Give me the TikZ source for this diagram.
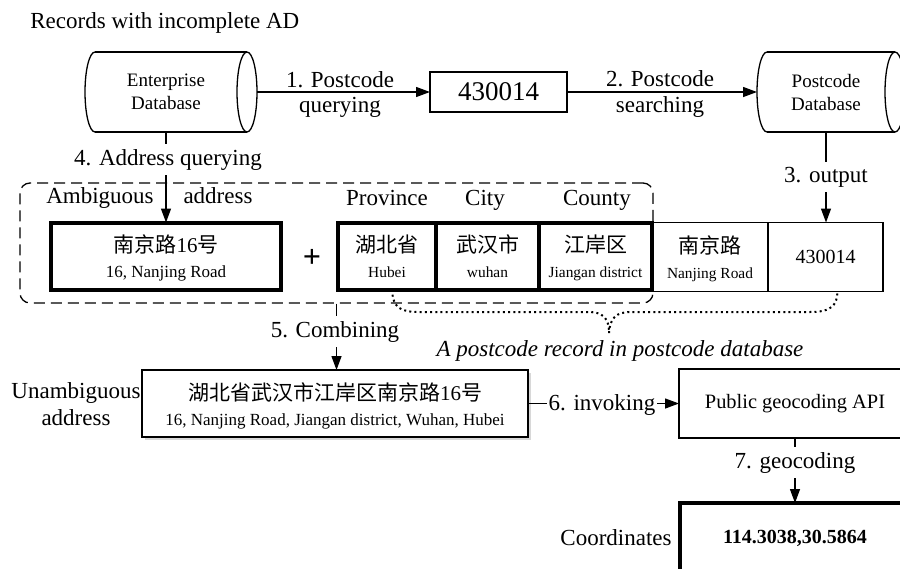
\documentclass[tikz,border=0pt]{standalone}
\usepackage{fontspec}
\setmainfont{Liberation Serif}
\newfontfamily\cjk{Noto Sans CJK SC}
\usetikzlibrary{arrows.meta,shadows}
\newcommand\fsz[1]{\fontsize{#1}{#1}\selectfont}
\newcommand\cylinderoutline[1]{%
  \draw[line] ([xshift=5pt]#1.north west) -- (#1.north east);
  \draw[line] ([xshift=5pt]#1.south west) -- (#1.south east);
  \draw[line] (#1.east) ellipse [x radius=5pt, y radius=20pt];
  \draw[line] ([xshift=5pt]#1.north west) arc [start angle=90, end angle=270, x radius=5pt, y radius=20pt];
}
\newcommand\celltext[4]{%
  \node[font=\fsz{10.5}, inner sep=0pt] (#1-c) at ([yshift=5.75pt]#1.center) {#2};
  \node[font=\fsz{#4}, inner sep=0pt, anchor=base] (#1-e) at ([yshift=-10.75pt]#1.center) {#3};
}
\begin{document}
\begin{tikzpicture}[x=0.5pt,y=-0.5pt,
  line/.style={line width=0.65pt},
  arr/.style={line width=0.65pt,-{Triangle[length=7pt,width=5pt]}},
  lbl/.style={font=\fsz{11.5}, inner sep=0pt},
  lblw/.style={lbl, fill=white, inner xsep=1pt, inner ysep=2.5pt},
  cyl/.style={inner sep=0pt, outer sep=0pt, minimum height=40pt, align=center, font=\fontsize{9.5}{11.5}\selectfont},
  boxthin/.style={draw, line width=0.65pt, inner sep=0pt, outer sep=0pt, align=center},
  boxthick/.style={draw, line width=2pt, inner sep=0pt, outer sep=0pt, align=center},
]
\useasboundingbox (0,0) rectangle (900,568);
\fill[white] (0,0) rectangle (900,568);
\clip (0,0) rectangle (900,568);

\node[lbl, anchor=base west] (title) at (30,28) {Records with incomplete AD};

\node[cyl, minimum width=81pt] (edb) at (166,92) {Enterprise\\Database};
\cylinderoutline{edb}
\node[cyl, minimum width=69pt] (pdb) at (826,92) {Postcode\\Database};
\cylinderoutline{pdb}

\node[boxthin, minimum width=68.5pt, minimum height=20pt, font=\fsz{13.5}] (pc) at (498.5,92) {430014};

\draw[arr] ([xshift=5pt]edb.east) -- (pc.west);
\node[lbl, anchor=base] (l1a) at (340,87) {1. Postcode};
\node[lbl, anchor=base] (l1b) at (340,112) {querying};
\draw[arr] (pc.east) -- (pdb.west);
\node[lbl, anchor=base] (l2a) at (660,86) {2. Postcode};
\node[lbl, anchor=base] (l2b) at (660,112) {searching};

% dashed frame
\node[draw, line width=0.65pt, dash pattern=on 5.5pt off 3pt, rounded corners=5pt, minimum width=316.5pt, minimum height=60pt, inner sep=0pt] (frame) at (336.5,243) {};

\node[lbl, anchor=base] (hamb) at (100,203) {Ambiguous};
\node[lbl, anchor=base] (hadr) at (218,203) {address};
\node[lbl, anchor=base] (hprov) at (387,205) {Province};
\node[lbl, anchor=base] (hcity) at (485,205) {City};
\node[lbl, anchor=base] (hcounty) at (597,205) {County};

% record cells
\node[boxthin, minimum width=58pt, minimum height=34.5pt] (road) at (710,257) {};
\node[boxthin, minimum width=57.5pt, minimum height=34.5pt, font=\fsz{10}] (pcell) at (825.5,257) {430014};
\node[boxthick, minimum width=115pt, minimum height=33.5pt] (amb) at (166,256) {};
\node[boxthick, minimum width=49pt, minimum height=33.5pt] (prov) at (387,256) {};
\node[boxthick, minimum width=51.5pt, minimum height=33.5pt] (city) at (487.5,256) {};
\node[boxthick, minimum width=56.5pt, minimum height=33.5pt] (county) at (595.5,256) {};

\celltext{amb}{{\cjk 南京路}16{\cjk 号}}{16, Nanjing Road}{8.5}
\celltext{prov}{{\cjk 湖北省}}{Hubei}{7.7}
\celltext{city}{{\cjk 武汉市}}{wuhan}{7.7}
\celltext{county}{{\cjk 江岸区}}{Jiangan district}{7.7}
\celltext{road}{{\cjk 南京路}}{Nanjing Road}{7.7}

\node[font=\bfseries\fsz{16}, inner sep=0pt] (plus) at (312,258) {+};

\draw[arr] (edb.south) -- (amb.north);
\node[lblw, anchor=base] (l4) at (168,165) {4. Address querying};
\draw[arr] (pdb.south) -- (pdb.south |- pcell.north);
\node[lblw, anchor=base] (l3) at (826,182) {3. output};

% unambiguous address
\node[boxthin, line width=0.9pt, fill=white, drop shadow={shadow xshift=1.5pt, shadow yshift=-1.5pt, opacity=0.3}, minimum width=193pt, minimum height=33.5pt] (unamb) at (335,403.5) {};
\celltext{unamb}{{\cjk 湖北省武汉市江岸区南京路}16{\cjk 号}}{16, Nanjing Road, Jiangan district, Wuhan, Hubei}{8.5}
\node[lbl, anchor=base] (ua1) at (76,398) {Unambiguous};
\node[lbl, anchor=base] (ua2) at (76,425) {address};

\draw[arr] (frame.south) -- (frame.south |- unamb.north);
\node[lblw, anchor=base] (l5) at (335,337) {5. Combining};

% brace
\draw[line width=1pt, dash pattern=on 1pt off 1.6pt] ([xshift=2.5pt]prov.south) .. controls (393,308) and (400,312) .. (420,312) -- (588,312) .. controls (603,312) and (609,318) .. (609,333) .. controls (610,318) and (616,312) .. (631,312) -- (810,312) .. controls (832,312) and (837,305) .. ([xshift=6pt]pcell.south);
\node[lbl, font=\itshape\fsz{11.5}, anchor=base] (cap) at (620,356) {A postcode record in postcode database};

% API and coordinates
\node[boxthin, minimum width=116pt, minimum height=34.5pt, font=\fsz{10.2}] (api) at (795,403.5) {Public geocoding API};
\draw[arr] (unamb.east) -- (api.west);
\node[lblw, inner ysep=1pt, anchor=base] (l6) at (602,410) {6. invoking};

\node[boxthick, minimum width=115pt, minimum height=35pt, font=\bfseries\fsz{10}] (coord) at (795,538) {114.3038,30.5864};
\draw[arr] (api.south) -- (coord.north);
\node[lblw, anchor=base] (l7) at (795,468) {7. geocoding};
\node[lbl, anchor=base east] (lc) at (672,545) {Coordinates};
\end{tikzpicture}
\end{document}
